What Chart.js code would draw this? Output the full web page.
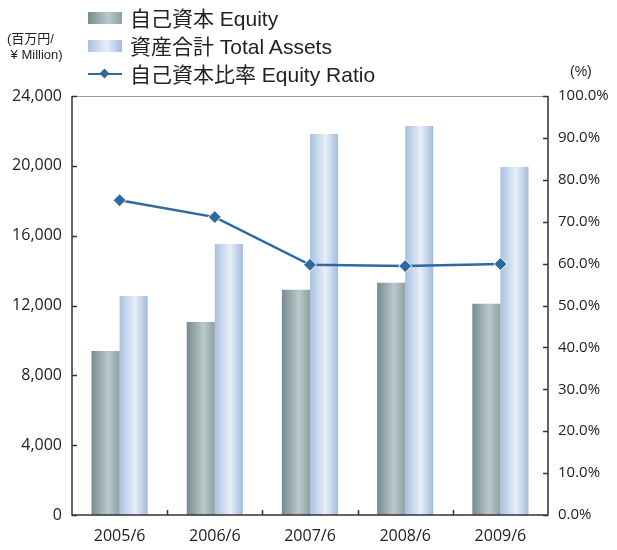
<!DOCTYPE html>
<html>
<head>
<meta charset="utf-8">
<script src="https://cdn.jsdelivr.net/npm/chart.js@4/dist/chart.umd.min.js"></script>
<style>
body { margin: 0; background: #fff; }
#wrap { position: relative; width: 617px; height: 550px; }
#chart { position: absolute; left: 0; top: 0; }
.legend { position: absolute; left: 88px; font-family: "Liberation Sans", "Noto Sans CJK JP", sans-serif; font-size: 21px; color: #222; }
.legend div { height: 28px; line-height: 28px; white-space: nowrap; }
.sw { display: inline-block; width: 34px; height: 12px; margin-right: 8px; vertical-align: middle; position: relative; top: -2px; }
.sw1 { background: linear-gradient(to right, #758c8e, #bcc8ca 60%, #8da0a2); }
.sw2 { background: linear-gradient(to right, #a9c0df, #e8eff8 55%, #a2bbdd); }
.sw3 { background: none; }
.sw3:before { content: ""; position: absolute; left: 0; right: 0; top: 5px; height: 2px; background: #2f6a9e; }
.sw3:after { content: ""; position: absolute; left: 13px; top: 2px; width: 7px; height: 7px; background: #2f6a9e; transform: rotate(45deg); }
.unit { position: absolute; font-family: "Liberation Sans", "Noto Sans CJK JP", sans-serif; font-size: 13px; color: #222; line-height: 16px; }
</style>
</head>
<body>
<div id="wrap">
  <canvas id="chart" width="617" height="550"></canvas>
  <div class="legend" style="top:5px">
    <div><span class="sw sw1"></span>自己資本 Equity</div>
    <div><span class="sw sw2"></span>資産合計 Total Assets</div>
    <div><span class="sw sw3"></span>自己資本比率 Equity Ratio</div>
  </div>
  <div class="unit" style="left:7px;top:31px">(百万円/<br>&nbsp;¥ Million)</div>
  <div class="unit" style="left:570px;top:63px;font-size:14px">(%)</div>
</div>
<script>
var years = ["2005/6", "2006/6", "2007/6", "2008/6", "2009/6"];
var equity = [9400, 11050, 12900, 13300, 12100];
var totalAssets = [12550, 15520, 21820, 22280, 19930];
var equityRatio = [75.1, 71.1, 59.7, 59.4, 59.9];

var tickFont = { family: "'Open Sans', sans-serif", size: 16 };

// horizontal gradient on each bar (options object is shared, so copy it per bar)
var barGradients = {
    id: "barGradients",
    beforeDatasetsDraw: function (chart) {
        var ctx = chart.ctx;
        chart.data.datasets.forEach(function (ds, i) {
            if (!ds.gradientStops) return;
            chart.getDatasetMeta(i).data.forEach(function (bar) {
                var g = ctx.createLinearGradient(bar.x - bar.width / 2, 0, bar.x + bar.width / 2, 0);
                ds.gradientStops.forEach(function (s) {
                    g.addColorStop(s[0], s[1]);
                });
                var o = {};
                for (var k in bar.options) o[k] = bar.options[k];
                o.backgroundColor = g;
                bar.options = o;
            });
        });
    },
};

// frame + inward ticks
var frame = {
    id: "frame",
    afterDatasetsDraw: function (chart) {
        var ctx = chart.ctx;
        var a = chart.chartArea;
        var y = chart.scales.y, y2 = chart.scales.y2;
        ctx.save();
        ctx.lineWidth = 1;
        ctx.strokeStyle = "#999";
        ctx.beginPath();
        ctx.moveTo(a.left, a.top + 0.5);
        ctx.lineTo(a.right, a.top + 0.5);
        ctx.stroke();
        ctx.lineWidth = 1.5;
        ctx.strokeStyle = "#333";
        ctx.beginPath();
        ctx.moveTo(a.left, a.top);
        ctx.lineTo(a.left, a.bottom);
        ctx.lineTo(a.right, a.bottom);
        ctx.lineTo(a.right, a.top);
        y.ticks.forEach(function (t) {
            var p = Math.round(y.getPixelForValue(t.value)) + 0.5;
            ctx.moveTo(a.left, p);
            ctx.lineTo(a.left + 5, p);
        });
        y2.ticks.forEach(function (t) {
            var p = Math.round(y2.getPixelForValue(t.value)) + 0.5;
            ctx.moveTo(a.right, p);
            ctx.lineTo(a.right - 5, p);
        });
        var w = (a.right - a.left) / years.length;
        for (var i = 1; i < years.length; i++) {
            var px = Math.round(a.left + w * i) + 0.5;
            ctx.moveTo(px, a.bottom);
            ctx.lineTo(px, a.bottom - 5);
        }
        ctx.stroke();
        ctx.restore();
    },
};

new Chart(document.getElementById("chart"), {
    type: "bar",
    data: {
        labels: years,
        datasets: [
            {
                type: "line",
                label: "自己資本比率 Equity Ratio",
                data: equityRatio,
                yAxisID: "y2",
                order: 0,
                borderColor: "#2f6a9e",
                borderWidth: 2.5,
                pointStyle: "rectRot",
                pointRadius: 6.5,
                pointBackgroundColor: "#2f6a9e",
                pointBorderColor: "#fff",
                pointBorderWidth: 1,
            },
            {
                label: "自己資本 Equity",
                data: equity,
                yAxisID: "y",
                order: 1,
                backgroundColor: "#a0b0b2",
                gradientStops: [[0, "#758c8e"], [0.6, "#bcc8ca"], [1, "#8da0a2"]],
                categoryPercentage: 0.59,
                barPercentage: 1,
            },
            {
                label: "資産合計 Total Assets",
                data: totalAssets,
                yAxisID: "y",
                order: 1,
                backgroundColor: "#c8d7ec",
                gradientStops: [[0, "#a9c0df"], [0.55, "#e8eff8"], [1, "#a2bbdd"]],
                categoryPercentage: 0.59,
                barPercentage: 1,
            },
        ],
    },
    options: {
        responsive: false,
        animation: false,
        layout: { padding: { top: 96, left: 0, right: 0, bottom: 0 } },
        plugins: {
            legend: { display: false },
            tooltip: { enabled: false },
        },
        scales: {
            x: {
                grid: { display: false },
                border: { display: false },
                ticks: { font: { family: "'Open Sans', sans-serif", size: 16 }, color: "#222", padding: 4 },
                afterFit: function (s) { s.height = 35; },
            },
            y: {
                position: "left",
                min: 0,
                max: 24000,
                grid: { display: false },
                border: { display: false },
                ticks: {
                    stepSize: 4000,
                    font: tickFont,
                    color: "#222",
                    padding: 2,
                    callback: function (v) { return v.toLocaleString("en-US"); },
                },
                afterFit: function (s) { s.width = 72; },
            },
            y2: {
                position: "right",
                min: 0,
                max: 100,
                grid: { display: false },
                border: { display: false },
                ticks: {
                    stepSize: 10,
                    font: { family: "'Open Sans', sans-serif", size: 15 },
                    color: "#222",
                    padding: 2,
                    callback: function (v) { return v.toFixed(1) + "%"; },
                },
                afterFit: function (s) { s.width = 69; },
            },
        },
    },
    plugins: [barGradients, frame],
});
</script>
</body>
</html>
